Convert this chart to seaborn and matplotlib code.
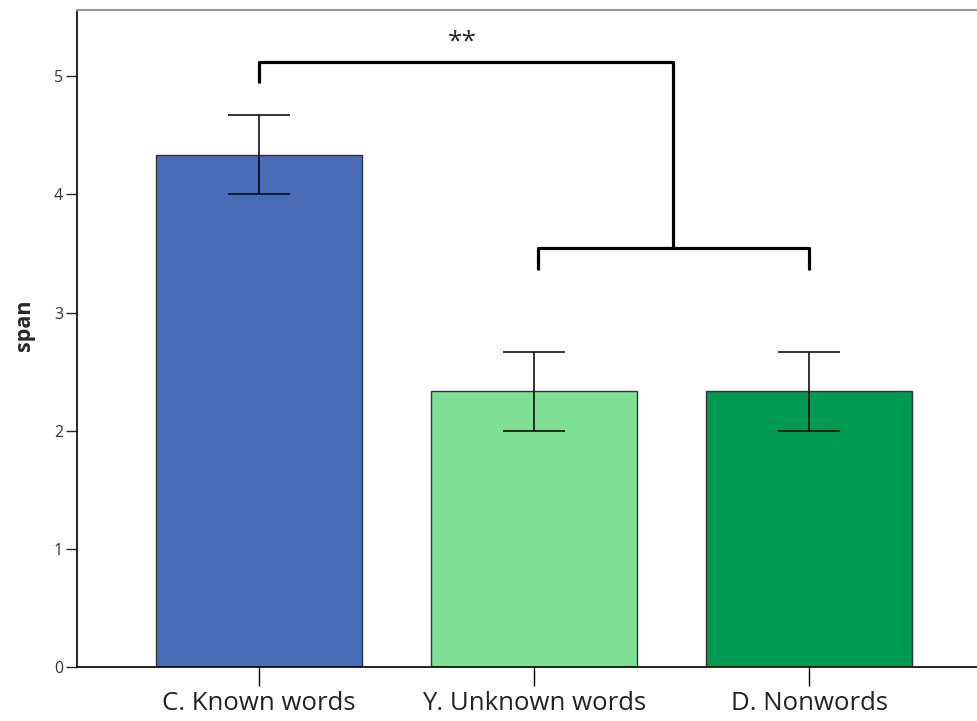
import matplotlib
matplotlib.use("Agg")
import matplotlib.pyplot as plt
import seaborn as sns
import pandas as pd

# values
conditions = ["C. Known words", "Y. Unknown words", "D. Nonwords"]
span_mean = [4.33, 2.335, 2.335]
err_low = [4.00, 2.00, 2.00]
err_high = [4.67, 2.665, 2.665]
bar_colors = ["#4a6bb6", "#7fdf95", "#009a53"]
y_ticks = [0, 1, 2, 3, 4, 5]

df = pd.DataFrame({"condition": conditions, "span": span_mean})

sns.set_style("white")
plt.rcParams["font.family"] = ["Open Sans", "DejaVu Sans"]

fig = plt.figure(figsize=(9.77, 7.21), dpi=100)
ax = fig.add_axes([0.0788, 0.0749, 0.9212, 0.9112])

sns.barplot(
    data=df,
    x="condition",
    y="span",
    hue="condition",
    palette=bar_colors,
    saturation=1,
    width=0.75,
    edgecolor="#333333",
    linewidth=1.0,
    errorbar=None,
    legend=False,
    ax=ax,
)

# error bars from the read-off limits
yerr = [[m - lo for m, lo in zip(span_mean, err_low)],
        [hi - m for m, hi in zip(span_mean, err_high)]]
ax.errorbar(range(len(conditions)), span_mean, yerr=yerr, fmt="none",
            ecolor="black", elinewidth=1.1, capsize=22, capthick=1.1)

# significance brackets
lw = 2.3
ax.plot([0, 0, 1.505, 1.505], [4.94, 5.12, 5.12, 3.545], color="black",
        lw=lw, solid_joinstyle="round", solid_capstyle="butt", clip_on=False)
ax.plot([1.015, 1.015, 2.0, 2.0], [3.36, 3.545, 3.545, 3.36], color="black",
        lw=lw, solid_joinstyle="round", solid_capstyle="butt", clip_on=False)
ax.text(0.74, 5.29, "**", ha="center", va="center", fontsize=19)

ax.set_xlim(-0.662, 2.61)
ax.set_ylim(0, 5.56)
ax.set_yticks(y_ticks)
ax.set_yticklabels([str(t) for t in y_ticks], fontsize=11.5, color="#333333")
ax.tick_params(axis="x", direction="out", length=14, width=1.0,
               labelsize=18.5, pad=3, bottom=True, colors="black")
ax.tick_params(axis="y", direction="out", length=8, width=1.0, left=True,
               pad=2)
for lab in ax.get_xticklabels():
    lab.set_color("#222222")

ax.set_xlabel("")
ax.set_ylabel("span", fontsize=15.5, fontweight="bold")
ax.yaxis.set_label_coords(-0.047, 0.52)

for side in ["left", "bottom"]:
    ax.spines[side].set_color("black")
    ax.spines[side].set_linewidth(1.2)
ax.spines["top"].set_color("#999999")
ax.spines["top"].set_linewidth(1.5)
ax.spines["right"].set_visible(False)

fig.savefig("out.png", dpi=100)
